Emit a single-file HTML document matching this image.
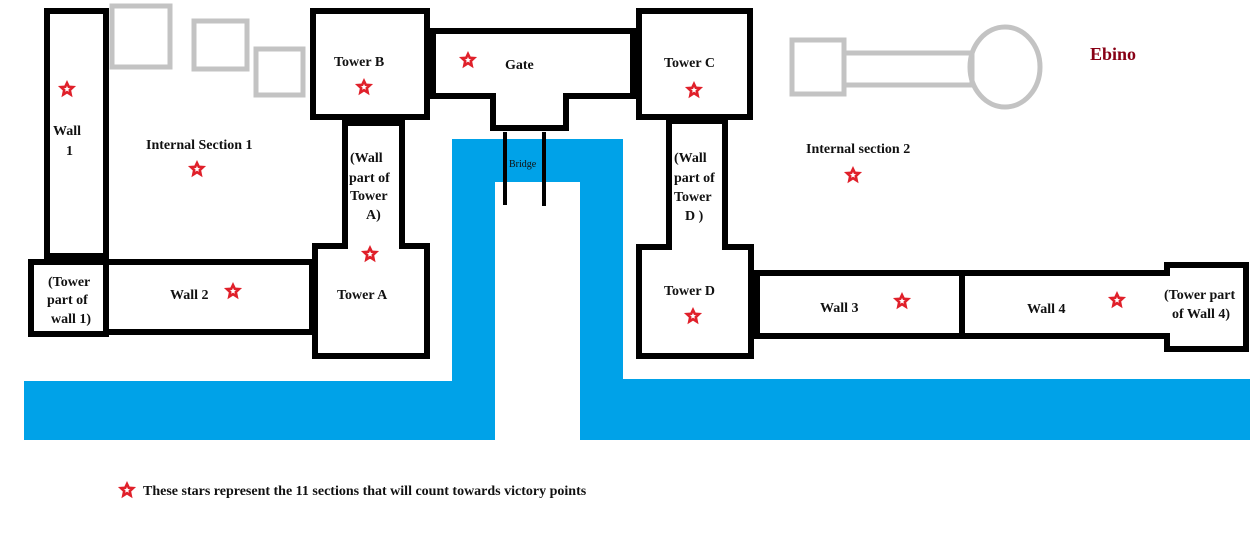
<!DOCTYPE html>
<html><head><style>
body{margin:0;background:#fff;}
svg{display:block}
text{font-family:"Liberation Serif",serif;font-weight:bold;font-size:14px;fill:#111}
.g{fill:none;stroke:#c3c3c3;stroke-width:5}
.b{fill:#fff;stroke:#000;stroke-width:6}
</style></head><body>
<svg width="1250" height="554" viewBox="0 0 1250 554" xmlns="http://www.w3.org/2000/svg">
<defs>
<g id="s"><polygon points="0,-6 1.8,-2.2 6,-1.9 2.8,1.1 3.7,5.5 0,3.2 -3.7,5.5 -2.8,1.1 -6,-1.9 -1.8,-2.2" fill="#fff" stroke="#e0202a" stroke-width="2.6"/></g>
</defs>
<!-- water -->
<g fill="#00a2e8">
<rect x="24" y="381" width="471" height="59"/>
<rect x="452" y="139" width="43" height="301"/>
<rect x="452" y="139" width="171" height="43"/>
<rect x="580" y="139" width="43" height="301"/>
<rect x="580" y="379" width="670" height="61"/>
</g>
<!-- gray -->
<rect class="g" x="112" y="6" width="58" height="61"/>
<rect class="g" x="194" y="21" width="53" height="48"/>
<rect class="g" x="256" y="49" width="47" height="46"/>
<rect class="g" x="792" y="40" width="52" height="54"/>
<rect class="g" x="844" y="53" width="128" height="32"/>
<ellipse class="g" cx="1005" cy="67" rx="35" ry="40"/>
<!-- black structures -->
<rect class="b" x="47" y="11" width="59" height="245"/>
<rect class="b" x="31" y="262" width="75" height="72"/>
<rect class="b" x="106" y="262" width="206" height="70"/>
<rect class="b" x="345" y="123" width="57" height="125"/>
<rect class="b" x="315" y="246" width="112" height="110"/>
<rect x="348" y="238" width="51" height="14" style="fill:#fff;stroke:none"/>
<rect class="b" x="313" y="11" width="114" height="106"/>
<polygon class="b" points="433,31 633,31 633,96 566,96 566,128 493,128 493,96 433,96"/>
<rect x="427" y="28" width="9" height="71" fill="#000"/>
<rect class="b" x="639" y="11" width="111" height="106"/>
<rect class="b" x="669" y="121" width="56" height="127"/>
<rect class="b" x="639" y="247" width="112" height="109"/>
<rect x="672" y="239" width="50" height="14" style="fill:#fff;stroke:none"/>
<rect class="b" x="757" y="273" width="205" height="63"/>
<rect class="b" x="962" y="273" width="205" height="63"/>
<rect class="b" x="1167" y="265" width="79" height="84"/>
<rect x="1163" y="276" width="9" height="57" style="fill:#fff;stroke:none"/>
<line x1="505" y1="132" x2="505" y2="205" stroke="#000" stroke-width="4"/>
<line x1="544" y1="132" x2="544" y2="206" stroke="#000" stroke-width="4"/>
<!-- text -->
<text x="53" y="135">Wall</text><text x="66" y="155">1</text>
<text x="146" y="149">Internal Section 1</text>
<text x="334" y="66">Tower B</text>
<text x="505" y="69">Gate</text>
<text x="664" y="67">Tower C</text>
<text x="350" y="162">(Wall</text><text x="349" y="182">part of</text><text x="350" y="200">Tower</text><text x="366" y="219">A)</text>
<text x="48" y="286">(Tower</text><text x="47" y="304">part of</text><text x="51" y="323">wall 1)</text>
<text x="170" y="299">Wall 2</text>
<text x="337" y="299">Tower A</text>
<text x="509" y="167" style="font-size:10px;font-weight:normal">Bridge</text>
<text x="674" y="162">(Wall</text><text x="674" y="182">part of</text><text x="674" y="201">Tower</text><text x="685" y="220">D )</text>
<text x="806" y="153">Internal section 2</text>
<text x="664" y="295">Tower D</text>
<text x="820" y="312">Wall 3</text>
<text x="1027" y="313">Wall 4</text>
<text x="1164" y="299">(Tower part</text><text x="1172" y="318">of Wall 4)</text>
<text x="1090" y="60" style="fill:#880015;font-size:18px">Ebino</text>
<text x="143" y="495">These stars represent the 11 sections that will count towards victory points</text>
<!-- stars -->
<use href="#s" x="67" y="89"/>
<use href="#s" x="197" y="169"/>
<use href="#s" x="364" y="87"/>
<use href="#s" x="468" y="60"/>
<use href="#s" x="694" y="90"/>
<use href="#s" x="370" y="254"/>
<use href="#s" x="233" y="291"/>
<use href="#s" x="853" y="175"/>
<use href="#s" x="693" y="316"/>
<use href="#s" x="902" y="301"/>
<use href="#s" x="1117" y="300"/>
<use href="#s" x="127" y="490"/>
</svg>
</body></html>
